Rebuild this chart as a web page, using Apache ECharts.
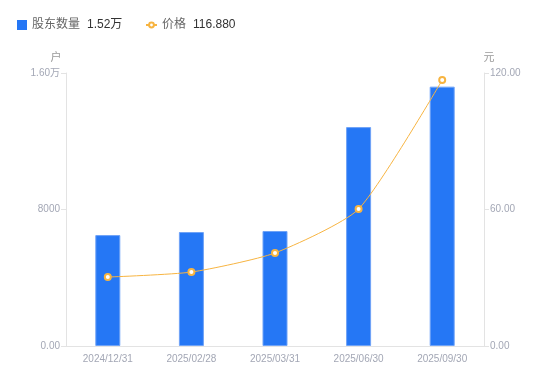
<!DOCTYPE html>
<html><head><meta charset="utf-8">
<script src="https://cdn.jsdelivr.net/npm/echarts@6/dist/echarts.min.js"></script>
<style>html,body{margin:0;padding:0;background:#fff}#c{width:550px;height:381px}</style>
</head><body><div id="c"></div>
<script>
const categories = ['2024/12/31','2025/02/28','2025/03/31','2025/06/30','2025/09/30'];
const holders = [6500, 6680, 6740, 12830, 15200];
const prices = [30.3, 32.5, 40.9, 60.2, 116.88];
const leftTicks = [0, 8000, 16000];
const rightTicks = [0, 60, 120];

const chart = echarts.init(document.getElementById('c'));
const font = '"Liberation Sans", Arial, "Noto Sans CJK SC", sans-serif';
const legendText = {
  rich: {
    a: {color: '#666', fontSize: 12, fontFamily: font, padding: [0, 7, 0, 0]},
    b: {color: '#333', fontSize: 12, fontFamily: font}
  }
};
chart.setOption({
  animation: false,
  textStyle: {fontFamily: font},
  legend: [{
    left: 12, top: 14, itemWidth: 10, itemHeight: 10,
    data: [{name: '股东数量', icon: 'rect', itemStyle: {borderWidth: 0, color: '#2577f5'}}],
    formatter: function (n) { return '{a|' + n + '}{b|1.52万}'; },
    textStyle: legendText
  }, {
    left: 140, top: 14, itemWidth: 11, itemHeight: 6,
    data: [{name: '价格'}],
    formatter: function (n) { return '{a|' + n + '}{b|116.880}'; },
    textStyle: legendText
  }],
  grid: {left: 66, right: 66, top: 73, bottom: 35},
  xAxis: {
    type: 'category', data: categories,
    axisLine: {lineStyle: {color: '#e3e3e3'}},
    axisTick: {show: false},
    axisLabel: {color: '#a3a7b5', fontSize: 10, margin: 8}
  },
  yAxis: [{
    type: 'value', name: '户', nameGap: 10, min: leftTicks[0], max: leftTicks[2], interval: leftTicks[1],
    nameTextStyle: {color: '#999', fontSize: 11, padding: [0, 20, 0, 0]},
    axisLine: {show: true, lineStyle: {color: '#e3e3e3'}},
    axisTick: {show: true, length: 5, lineStyle: {color: '#e3e3e3'}},
    splitLine: {show: false},
    axisLabel: {color: '#a3a7b5', fontSize: 10, margin: 6,
      formatter: function (v) { if (v === 0) return '0.00'; if (v >= 10000) return (v/10000).toFixed(2) + '万'; return String(v); }}
  }, {
    type: 'value', name: '元', nameGap: 10, min: rightTicks[0], max: rightTicks[2], interval: rightTicks[1],
    nameTextStyle: {color: '#999', fontSize: 11, padding: [0, 0, 0, 10]},
    axisLine: {show: true, lineStyle: {color: '#e3e3e3'}},
    axisTick: {show: true, length: 5, lineStyle: {color: '#e3e3e3'}},
    splitLine: {show: false},
    axisLabel: {color: '#a3a7b5', fontSize: 10, margin: 6, formatter: function (v) { return v.toFixed(2); }}
  }],
  series: [{
    name: '股东数量', type: 'bar', data: holders, barWidth: 25, yAxisIndex: 0,
    itemStyle: {color: '#2577f5', borderColor: '#6fa3f7', borderWidth: 1}
  }, {
    name: '价格', type: 'line', data: prices, yAxisIndex: 1, smooth: 0.2,
    symbol: 'circle', symbolSize: 6, showSymbol: true,
    lineStyle: {color: '#f7b441', width: 1},
    itemStyle: {color: '#fff', borderColor: '#f7b441', borderWidth: 2}
  }]
});
</script></body></html>
